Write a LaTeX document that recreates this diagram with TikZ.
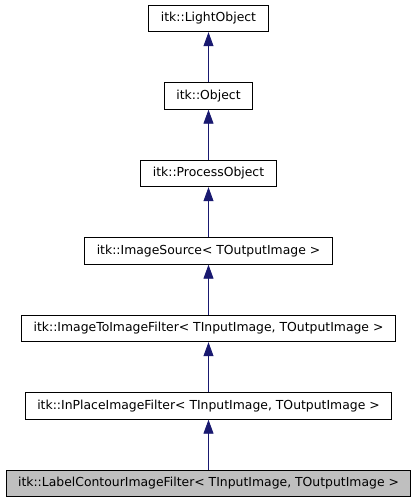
\documentclass[tikz,border=0pt]{standalone}
\usepackage{fontspec}
\setmainfont{DejaVu Sans}
\usetikzlibrary{arrows.meta}
\definecolor{edgeblue}{HTML}{191970}
\definecolor{boxgray}{HTML}{BFBFBF}
\begin{document}
\begin{tikzpicture}[x=1pt,y=1pt,
    classbox/.style={draw=black, line width=0.9pt, fill=white, minimum height=26.5pt,
      inner xsep=12pt, inner ysep=0pt, text height=9.2pt, text depth=2.6pt,
      font=\fontsize{12.4}{14}\selectfont},
    current/.style={classbox, fill=boxgray},
    inherit/.style={draw=edgeblue, line width=0.9pt, -{Triangle[width=10pt,length=14pt]}}]
    \useasboundingbox (0,0) rectangle (419,-504);

    \node[classbox] (light) at (208.5,-18.5) {itk::LightObject};
    \node[classbox] (object) at (208.5,-96) {itk::Object};
    \node[classbox] (process) at (208.5,-173.5) {itk::ProcessObject};
    \node[classbox] (source) at (208.5,-251) {itk::ImageSource< TOutputImage >};
    \node[classbox] (imgtoimg) at (208.5,-328.5) {itk::ImageToImageFilter< TInputImage, TOutputImage >};
    \node[classbox] (inplace) at (208.5,-406) {itk::InPlaceImageFilter< TInputImage, TOutputImage >};
    \node[current] (contour) at (208.5,-483.5) {itk::LabelContourImageFilter< TInputImage, TOutputImage >};

    \draw[inherit] (object) -- (light);
    \draw[inherit] (process) -- (object);
    \draw[inherit] (source) -- (process);
    \draw[inherit] (imgtoimg) -- (source);
    \draw[inherit] (inplace) -- (imgtoimg);
    \draw[inherit] (contour) -- (inplace);
\end{tikzpicture}
\end{document}
